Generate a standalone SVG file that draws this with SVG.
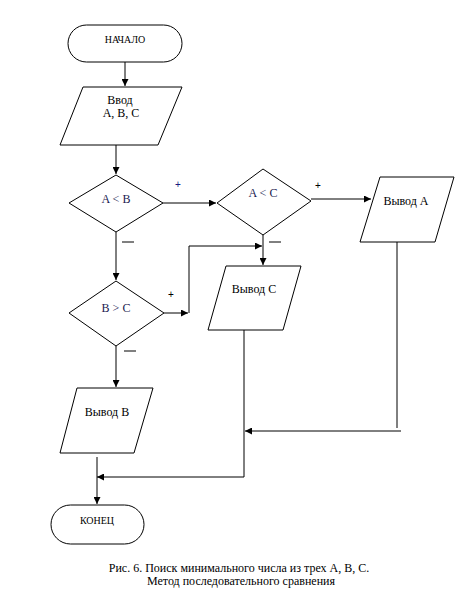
<svg xmlns="http://www.w3.org/2000/svg" width="475" height="593" viewBox="0 0 475 593">
<defs>
<marker id="arr" viewBox="0 0 8 8" refX="8" refY="4" markerWidth="7" markerHeight="7" markerUnits="userSpaceOnUse" orient="auto">
<path d="M0,0 L8,4 L0,8 Z" fill="#000"/>
</marker>
</defs>
<style>
.sh{fill:#fff;stroke:#000;stroke-width:1}
.ln{fill:none;stroke:#000;stroke-width:1}
.t{font-family:"Liberation Serif","Times New Roman",serif;font-size:12px;fill:#000;text-anchor:middle}
.s{font-size:10px}
.d{fill:#1a1a50}
.lb{font-family:"Liberation Sans",Arial,sans-serif;font-size:10px;fill:#000;text-anchor:middle}
</style>
<rect width="475" height="593" fill="#fff"/>
<g id="connectors">
<path class="ln" d="M125,62 V86" marker-end="url(#arr)"/>
<path class="ln" d="M116,145 V174" marker-end="url(#arr)"/>
<path class="ln" d="M163,203 H216" marker-end="url(#arr)"/>
<path class="ln" d="M311,199 H371" marker-end="url(#arr)"/>
<path class="ln" d="M116,232 V280" marker-end="url(#arr)"/>
<path class="ln" d="M263,235 V265" marker-end="url(#arr)"/>
<path class="ln" d="M164,313 H188" marker-end="url(#arr)"/>
<path class="ln" d="M189,313 V246 H262" marker-end="url(#arr)"/>
<path class="ln" d="M116,346 V387" marker-end="url(#arr)"/>
<path class="ln" d="M397,242 V428"/>
<path class="ln" d="M401,431 H245" marker-end="url(#arr)"/>
<path class="ln" d="M244,330 V477 H97" marker-end="url(#arr)"/>
<path class="ln" d="M97,457 V504" marker-end="url(#arr)"/>
<text class="lb" x="178" y="188" style="fill:#1a1a80">+</text>
<text class="lb" x="318" y="189">+</text>
<text class="lb" x="171" y="298">+</text>
<path class="ln" d="M122,242 H134"/>
<path class="ln" d="M269,242 H281"/>
<path class="ln" d="M124,351 H136"/>
</g>
<g id="start">
<rect class="sh" x="68" y="25" width="114" height="37" rx="18.5"/>
<text class="t s" x="125" y="43">НАЧАЛО</text>
</g>
<g id="input">
<polygon class="sh" points="83,87 182,87 158,145 60,145"/>
<text class="t" x="120" y="104">Ввод</text>
<text class="t" x="121" y="117">A, B, C</text>
</g>
<g id="cond1">
<polygon class="sh" points="116,175 163,203 116,232 69,203"/>
<text class="t d" x="116" y="203">A &lt; B</text>
</g>
<g id="cond2">
<polygon class="sh" points="263,169 311,201 263,235 217,203"/>
<text class="t d" x="263" y="197">A &lt; C</text>
</g>
<g id="outA">
<polygon class="sh" points="380,177 454,177 435,242 360,242"/>
<text class="t" x="406" y="205">Вывод A</text>
</g>
<g id="cond3">
<polygon class="sh" points="116,281 164,313 116,346 69,313"/>
<text class="t d" x="116" y="312">B &gt; C</text>
</g>
<g id="outC">
<polygon class="sh" points="226,266 301,266 283,330 208,330"/>
<text class="t" x="254" y="293">Вывод C</text>
</g>
<g id="outB">
<polygon class="sh" points="77,388 153,388 134,453 60,453"/>
<text class="t" x="107" y="416">Вывод B</text>
</g>
<g id="end">
<rect class="sh" x="51" y="505" width="93" height="39" rx="19.5"/>
<text class="t s" x="97" y="524">КОНЕЦ</text>
</g>
<g id="caption">
<text class="t" x="239" y="572">Рис. 6. Поиск минимального числа из трех A, B, C.</text>
<text class="t" x="241" y="585">Метод последовательного сравнения</text>
</g>
</svg>
